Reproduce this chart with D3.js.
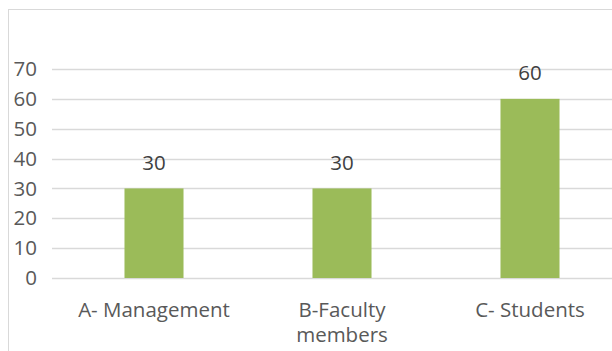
<!DOCTYPE html>
<html lang="en">
<head>
<meta charset="UTF-8">
<title>Bar Chart</title>
<script src="https://d3js.org/d3.v7.min.js"></script>
<style>
  body { margin: 0; background: #fff; }
  svg text { font-family: "Open Sans", "Noto Sans", sans-serif; }
</style>
</head>
<body>
<svg id="main" width="612" height="351"></svg>
<script>
  // chart data
  const categories = [["A- Management"], ["B-Faculty", "members"], ["C- Students"]];
  const values = [30, 30, 60];
  const yTicks = [0, 10, 20, 30, 40, 50, 60, 70];

  const svg = d3.select("svg#main");
  const fs = "20.5px";

  // outer chart frame
  svg.append("rect")
    .attr("x", 8.5).attr("y", 9.5)
    .attr("width", 620).attr("height", 360)
    .attr("fill", "none")
    .attr("stroke", "#d9d9d9");

  const left = 52, right = 624;
  const x = d3.scaleBand()
    .domain(d3.range(categories.length))
    .range([60, 624]);
  const y = d3.scaleLinear()
    .domain([0, 70])
    .range([278, 69]);

  // gridlines
  svg.append("g").selectAll("line")
    .data(yTicks)
    .enter().append("line")
    .attr("x1", left).attr("x2", right)
    .attr("y1", d => Math.round(y(d)) + 0.5)
    .attr("y2", d => Math.round(y(d)) + 0.5)
    .attr("stroke", "#d9d9d9")
    .attr("stroke-width", 1.3);

  // y tick labels
  svg.append("g").selectAll("text")
    .data(yTicks)
    .enter().append("text")
    .attr("x", 37)
    .attr("y", d => y(d))
    .attr("dy", "0.35em")
    .attr("text-anchor", "end")
    .attr("fill", "#595959")
    .style("font-size", fs)
    .text(d => d);

  const barW = x.bandwidth() * 0.314;

  // bars
  svg.append("g").selectAll("rect")
    .data(values)
    .enter().append("rect")
    .attr("x", (d, i) => x(i) + x.bandwidth() / 2 - barW / 2)
    .attr("y", d => y(d))
    .attr("width", barW)
    .attr("height", d => y(0) - y(d))
    .attr("fill", "#9bbb59");

  // value labels
  svg.append("g").selectAll("text")
    .data(values)
    .enter().append("text")
    .attr("x", (d, i) => x(i) + x.bandwidth() / 2)
    .attr("y", d => y(d) - 26)
    .attr("dy", "0.35em")
    .attr("text-anchor", "middle")
    .attr("fill", "#404040")
    .style("font-size", fs)
    .text(d => d);

  // category labels, two lines where needed
  const cat = svg.append("g").selectAll("text")
    .data(categories)
    .enter().append("text")
    .attr("x", (d, i) => x(i) + x.bandwidth() / 2)
    .attr("y", 309.5)
    .attr("text-anchor", "middle")
    .attr("fill", "#595959")
    .style("font-size", fs);
  cat.selectAll("tspan")
    .data(d => d)
    .enter().append("tspan")
    .attr("x", function () { return d3.select(this.parentNode).attr("x"); })
    .attr("dy", (d, i) => i === 0 ? "0.35em" : "1.22em")
    .text(d => d);
</script>
</body>
</html>
